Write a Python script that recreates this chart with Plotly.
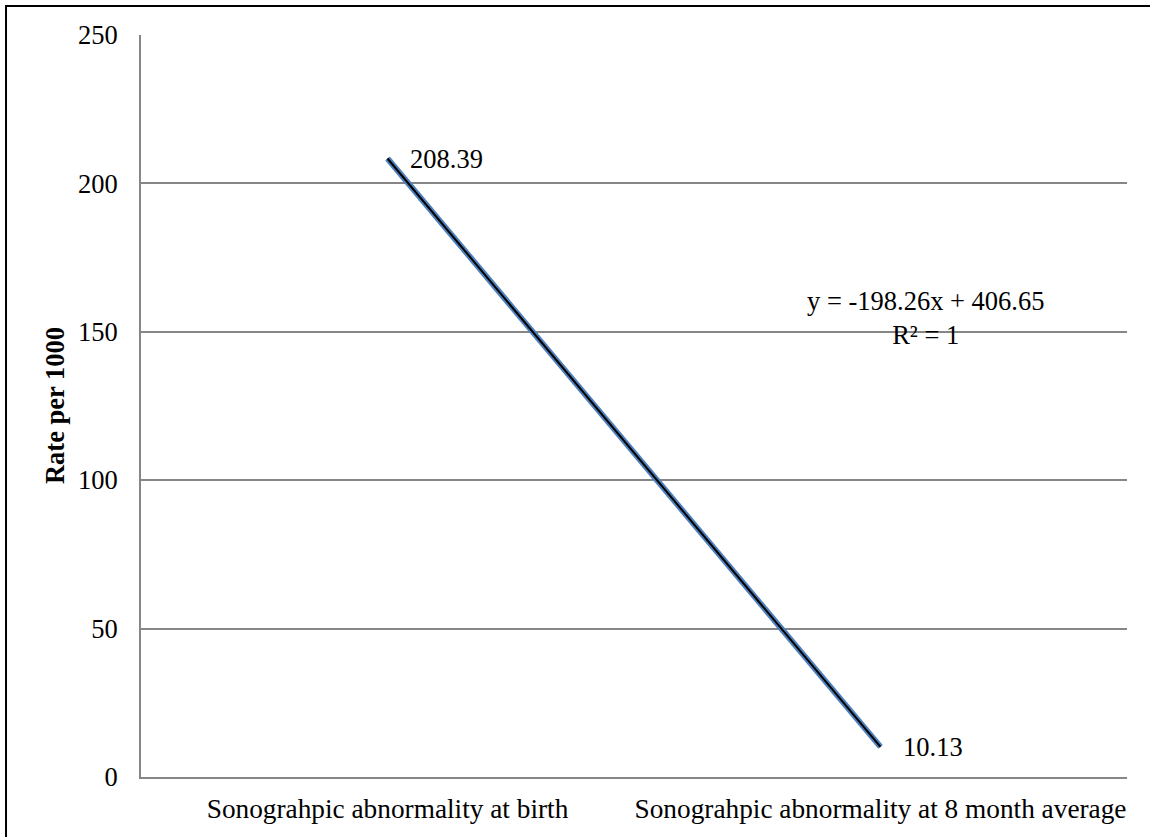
import numpy as np
import plotly.graph_objects as go

# Chart data
categories = ["Sonograhpic abnormality at birth", "Sonograhpic abnormality at 8 month average"]
rates = [208.39, 10.13]
y_ticks = [0, 50, 100, 150, 200, 250]

# Linear trend over category index (1, 2)
idx = np.arange(1, len(rates) + 1)
slope, intercept = np.polyfit(idx, rates, 1)
trend = slope * idx + intercept
ss_res = np.sum((np.array(rates) - trend) ** 2)
ss_tot = np.sum((np.array(rates) - np.mean(rates)) ** 2)
r2 = 1 - ss_res / ss_tot

FONT = "Liberation Serif, Times New Roman, serif"
GRID = "#868686"

fig = go.Figure()
fig.add_trace(go.Scatter(
    x=categories, y=rates, mode="lines",
    line=dict(color="#4F81BD", width=6), hoverinfo="skip", showlegend=False,
))
fig.add_trace(go.Scatter(
    x=categories, y=trend, mode="lines",
    line=dict(color="#000000", width=2), hoverinfo="skip", showlegend=False,
))

# Value labels
for cat, val in zip(categories, rates):
    fig.add_annotation(
        x=cat, y=val, text=f"{val:.2f}", showarrow=False,
        xanchor="left", yanchor="middle", xshift=20,
        font=dict(family=FONT, size=26.5, color="#000"),
    )

# Trendline equation
sign = "+" if intercept >= 0 else "-"
fig.add_annotation(
    x=1.092, y=154.5, xref="x", yref="y",
    text=f"y = {slope:.2f}x {sign} {abs(intercept):.2f}<br>R² = {r2:.0f}",
    showarrow=False, align="center", xanchor="center", yanchor="middle",
    font=dict(family=FONT, size=26.5, color="#000"),
)

# Y axis title
fig.add_annotation(
    x=-0.0872, y=0.5, xref="paper", yref="paper", text="<b>Rate per 1000</b>",
    textangle=-90, showarrow=False, xanchor="center", yanchor="middle",
    font=dict(family=FONT, size=26.5, color="#000"),
)

# Outer frame
fig.add_shape(
    type="rect", xref="paper", yref="paper",
    x0=-0.1369, x1=1.2, y0=-0.3, y1=1.0391,
    line=dict(color="#000", width=2), fillcolor="rgba(0,0,0,0)", layer="above",
)

fig.update_layout(
    width=1150, height=837,
    margin=dict(l=141, r=23, t=35, b=60),
    paper_bgcolor="white", plot_bgcolor="white",
    font=dict(family=FONT, size=26.5, color="#000"),
)
fig.update_xaxes(
    type="category", range=[-0.5, 1.5],
    showgrid=False, showline=True, linecolor=GRID, linewidth=2,
    ticks="outside", ticklen=6, tickcolor="rgba(0,0,0,0)",
    tickfont=dict(family=FONT, size=27.3, color="#000"),
)
fig.update_yaxes(
    range=[0, 250], tickvals=y_ticks, ticktext=[str(v) for v in y_ticks],
    showgrid=True, gridcolor=GRID, gridwidth=2,
    showline=True, linecolor=GRID, linewidth=2, zeroline=False,
    ticks="outside", ticklen=16, tickcolor="rgba(0,0,0,0)",
    tickfont=dict(family=FONT, size=26.5, color="#000"),
)

fig.write_html("out.html")
